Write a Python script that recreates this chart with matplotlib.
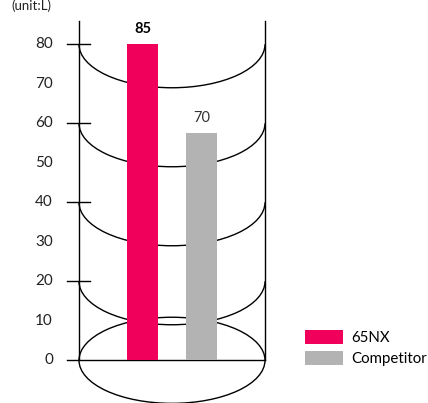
import matplotlib
matplotlib.use("Agg")
import matplotlib.pyplot as plt
import numpy as np
from matplotlib.patches import Arc, Ellipse, Patch

plt.rcParams['font.family'] = ['Lato', 'DejaVu Sans']

# ---- data ----
categories = ["65NX", "Competitor"]
bar_heights = [80, 57.5]
value_labels = ["85", "70"]
bar_colors = ["#F0005A", "#B3B3B3"]
tick_values = [0, 10, 20, 30, 40, 50, 60, 70, 80]
ring_levels = [20, 40, 60, 80]
unit_label = "(unit:L)"

W, H, DPI = 428, 403, 100
fig = plt.figure(figsize=(W / DPI, H / DPI), dpi=DPI)
ax = fig.add_axes([0, 0, 1, 1])
ax.set_axis_off()

# pixel-calibrated limits
x0px, xstep = 142.5, 59.0
y0px, ystep = 360.3, 3.95
ax.set_xlim((0 - x0px) / xstep, (W - x0px) / xstep)
ax.set_ylim(-(H - y0px) / ystep, y0px / ystep)

xs = np.arange(len(categories))
cyl_l = (79 - x0px) / xstep
cyl_r = (265 - x0px) / xstep
cyl_c = (cyl_l + cyl_r) / 2
cyl_w = cyl_r - cyl_l
arc_depth = 11.0
lw = 1.0

# cylinder walls
ax.plot([cyl_l, cyl_l], [0, 85.8], color="black", lw=lw, zorder=1)
ax.plot([cyl_r, cyl_r], [0, 85.8], color="black", lw=lw, zorder=1)
# rings (lower half arcs)
for lv in ring_levels:
    ax.add_patch(Arc((cyl_c, lv), cyl_w, 2 * arc_depth, theta1=180, theta2=360,
                     color="black", lw=lw, zorder=1))
# bottom ellipse
ax.add_patch(Ellipse((cyl_c, 0), cyl_w, 2 * 10.9, fill=False, edgecolor="black",
                     lw=lw, zorder=1))

# ticks
tick_l = (67 - x0px) / xstep
tick_r = (90 - x0px) / xstep
for lv in ring_levels:
    ax.plot([tick_l, tick_r], [lv, lv], color="black", lw=lw, zorder=1)
ax.plot([tick_l, cyl_r], [0, 0], color="black", lw=lw, zorder=1)

lab_x = (53 - x0px) / xstep
for t in tick_values:
    ax.text(lab_x, t, str(t), ha="right", va="center", fontsize=11, color="#222222")

ax.text((11 - x0px) / xstep, (y0px - 6) / ystep, unit_label, ha="left", va="center",
        fontsize=9.5, color="#222222")

# bars
bars = ax.bar(xs, bar_heights, width=0.525, color=bar_colors, zorder=3)
for i, (x, h, lab) in enumerate(zip(xs, bar_heights, value_labels)):
    ax.text(x, h + 2.0, lab, ha="center", va="bottom", fontsize=10.5,
            fontweight="bold" if i == 0 else "normal",
            color="black" if i == 0 else "#333333")

handles = [Patch(facecolor=c, edgecolor="none") for c in bar_colors]
ax.legend(handles, categories, loc="upper left",
          bbox_to_anchor=(305 / W, 1 - 330 / H), frameon=False,
          fontsize=10.8, borderpad=0, borderaxespad=0,
          handlelength=2.55, handleheight=1.05, handletextpad=0.55,
          labelspacing=0.4)

fig.savefig("out.png", dpi=DPI)
